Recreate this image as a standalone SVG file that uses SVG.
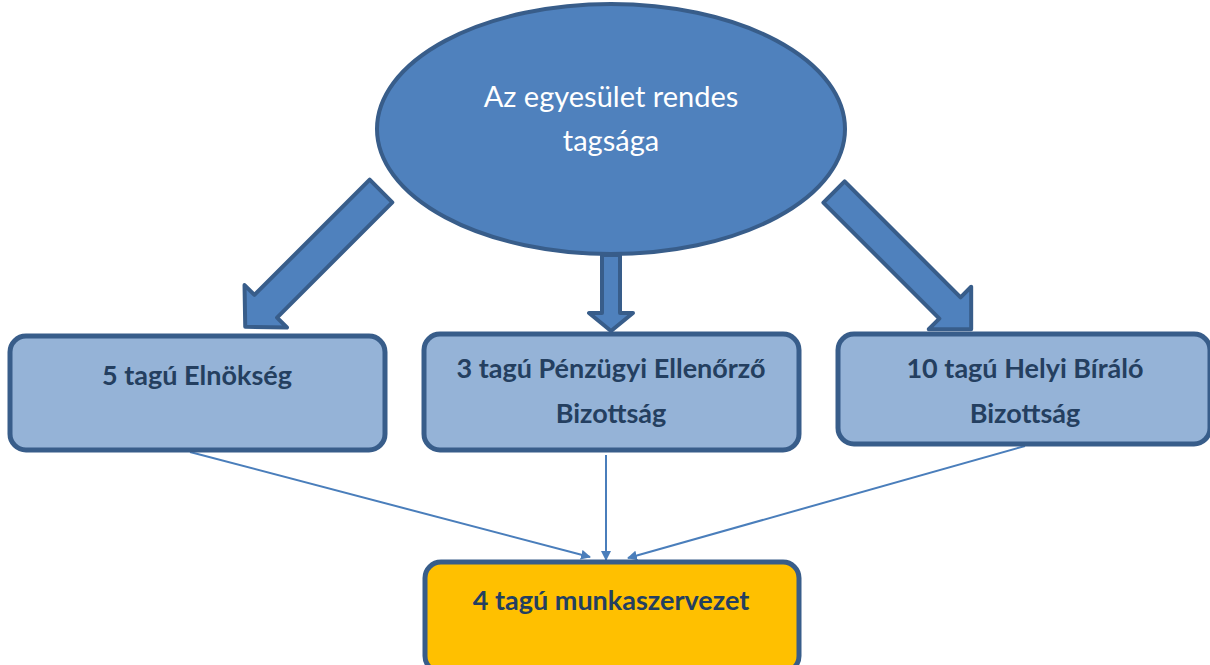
<svg xmlns="http://www.w3.org/2000/svg" width="1210" height="665" viewBox="0 0 1210 665">
<style>
.box{fill:#95b3d7;stroke:#385d8a;stroke-width:5}
.blk{fill:#4f81bd;stroke:#385d8a;stroke-width:4;stroke-linejoin:round}
.lbl{font-family:Lato,"Open Sans",sans-serif;font-weight:bold;font-size:27px;fill:#243f60;text-anchor:middle}
.top{font-family:Lato,"Open Sans",sans-serif;font-size:29px;fill:#ffffff;text-anchor:middle}
.con{stroke:#4a7ebb;stroke-width:2;fill:none}
</style>
<defs>
<marker id="ah" markerWidth="10" markerHeight="10" refX="9" refY="5" orient="auto" markerUnits="userSpaceOnUse" viewBox="0 0 10 10">
<path d="M0,0 L10,5 L0,10 Z" fill="#4a7ebb"/>
</marker>
</defs>
<g id="connectors">
<line class="con" x1="190" y1="452" x2="590" y2="557" marker-end="url(#ah)"/>
<line class="con" x1="606" y1="455" x2="606" y2="560" marker-end="url(#ah)"/>
<line class="con" x1="1025" y1="446" x2="628" y2="558" marker-end="url(#ah)"/>
<polygon class="blk" transform="translate(381,191) rotate(45)" points="-16,0 16,0 16,163 30,163 0,192 -30,163 -16,163"/>
<polygon class="blk" points="602,255 620,255 620,313 633,313 611,331 589,313 602,313"/>
<polygon class="blk" transform="translate(834,192) rotate(-45)" points="-15,0 15,0 15,164 30,164 0,194 -30,164 -15,164"/>
</g>
<g id="top">
<ellipse cx="611" cy="129" rx="234" ry="125" fill="#4f81bd" stroke="#385d8a" stroke-width="4"/>
<text class="top" x="611" y="107">Az egyesület rendes</text>
<text class="top" x="611" y="151">tagsága</text>
</g>
<g id="elnokseg">
<rect class="box" x="10" y="336" width="375" height="114" rx="16"/>
<text class="lbl" x="197" y="385">5 tagú Elnökség</text>
</g>
<g id="penzugyi">
<rect class="box" x="424" y="334" width="375" height="116" rx="16"/>
<text class="lbl" x="611" y="378">3 tagú Pénzügyi Ellenőrző</text>
<text class="lbl" x="611" y="423">Bizottság</text>
</g>
<g id="helyi">
<rect class="box" x="838" y="334" width="372" height="110" rx="16"/>
<text class="lbl" x="1025" y="378">10 tagú Helyi Bíráló</text>
<text class="lbl" x="1025" y="423">Bizottság</text>
</g>
<g id="munka">
<rect x="425" y="562" width="374" height="110" rx="16" fill="#ffc000" stroke="#385d8a" stroke-width="5"/>
<text class="lbl" x="611" y="610">4 tagú munkaszervezet</text>
</g>
</svg>
